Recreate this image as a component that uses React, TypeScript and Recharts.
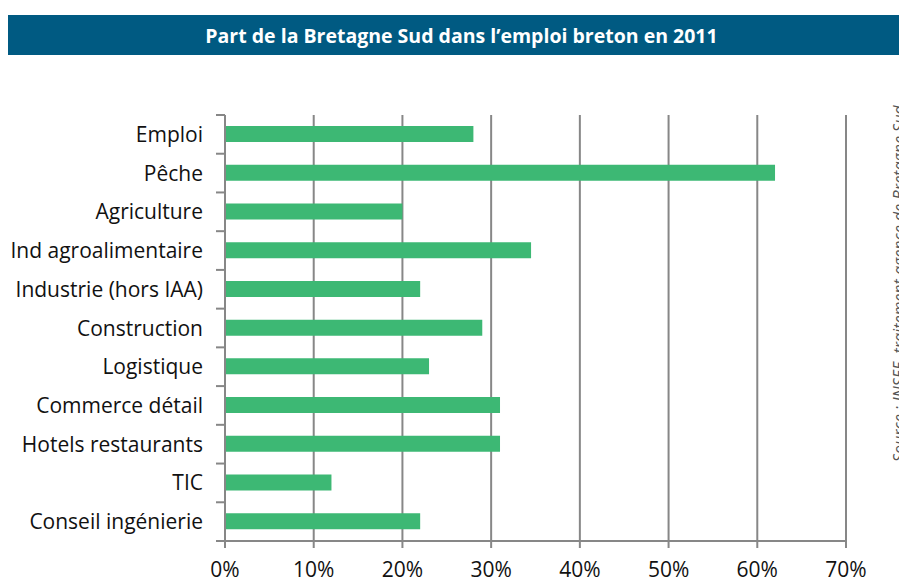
import { BarChart, Bar, XAxis, YAxis, CartesianGrid } from "recharts";

const categories = [
  "Emploi",
  "Pêche",
  "Agriculture",
  "Ind agroalimentaire",
  "Industrie (hors IAA)",
  "Construction",
  "Logistique",
  "Commerce détail",
  "Hotels restaurants",
  "TIC",
  "Conseil ingénierie",
];
const shares = [28, 62, 20, 34.5, 22, 29, 23, 31, 31, 12, 22];
const xTicks = [0, 10, 20, 30, 40, 50, 60, 70];

const title = "Part de la Bretagne Sud dans l\u2019emploi breton en 2011";
const source = "Source : INSEE, traitement agence de Bretagne Sud";

const data = categories.map((name, i) => ({ name, value: shares[i] }));

const W = 899;
const H = 581;
const TOP = 115;
const BOTTOM = 40;
const BAND = (H - TOP - BOTTOM) / categories.length;
const AXIS = "#878787";
const FONT = "'Open Sans', sans-serif";

function CategoryTick(props: any) {
  const { x, y, payload, index } = props;
  // recharts hands over x already shifted by tickSize + tickMargin (6 + 2)
  const ax = x + 8;
  const last = index === categories.length - 1;
  return (
    <g>
      <line x1={ax - 9} x2={ax} y1={y - BAND / 2} y2={y - BAND / 2} stroke={AXIS} strokeWidth={2} />
      {last && (
        <line x1={ax - 9} x2={ax} y1={y + BAND / 2} y2={y + BAND / 2} stroke={AXIS} strokeWidth={2} />
      )}
      <text x={ax - 22} y={y} dy="0.36em" textAnchor="end" fontSize={21} fill="#111" fontFamily={FONT}>
        {payload.value}
      </text>
    </g>
  );
}

export default function App() {
  return (
    <div style={{ position: "absolute", left: 0, top: 0, width: W, height: H, background: "#fff" }}>
      <div
        style={{
          position: "absolute",
          left: 8,
          top: 15,
          width: W - 8,
          height: 40,
          background: "#005A82",
          color: "#fff",
          fontFamily: FONT,
          fontWeight: 700,
          fontSize: 19.5,
          display: "flex",
          alignItems: "center",
          justifyContent: "center",
          paddingLeft: 16,
          boxSizing: "border-box",
        }}
      >
        {title}
      </div>
      <BarChart
        width={W}
        height={H}
        data={data}
        layout="vertical"
        margin={{ top: TOP, right: 53, bottom: 0, left: 0 }}
        barCategoryGap={0}
      >
        <CartesianGrid horizontal={false} vertical stroke={AXIS} strokeWidth={2} />
        <XAxis
          type="number"
          domain={[0, 70]}
          ticks={xTicks}
          tickFormatter={(v: number) => `${v}%`}
          height={BOTTOM}
          axisLine={{ stroke: AXIS, strokeWidth: 2 }}
          tickLine={{ stroke: AXIS, strokeWidth: 2 }}
          tickSize={7}
          tickMargin={14}
          tick={{ fontSize: 21, fill: "#111", fontFamily: FONT }}
          interval={0}
        />
        <YAxis
          type="category"
          dataKey="name"
          width={225}
          axisLine={{ stroke: AXIS, strokeWidth: 2 }}
          tickLine={false}
          tick={<CategoryTick />}
          interval={0}
        />
        <Bar dataKey="value" fill="#3DB874" barSize={16} isAnimationActive={false} />
      </BarChart>
      <svg style={{ position: "absolute", left: 0, top: 0 }} width={W} height={H}>
        <text
          transform={`translate(905, 462) rotate(-90)`}
          fontSize={16}
          fontStyle="italic"
          fill="#555"
          fontFamily={FONT}
        >
          {source}
        </text>
      </svg>
    </div>
  );
}
